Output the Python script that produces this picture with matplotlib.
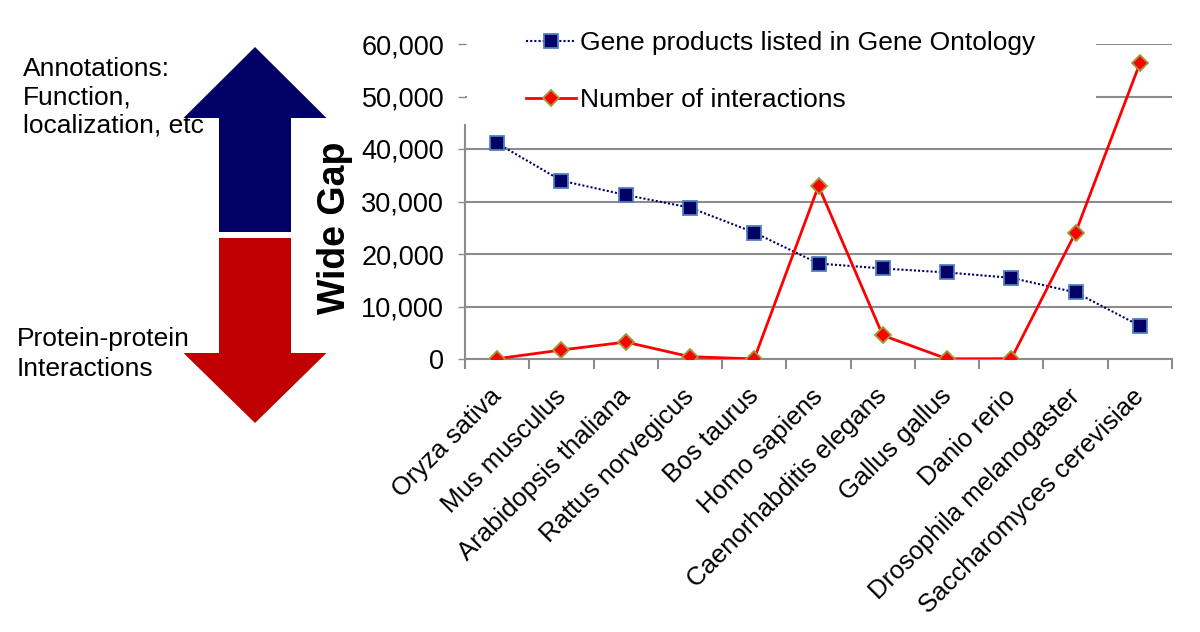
import matplotlib
matplotlib.use("Agg")
import matplotlib.pyplot as plt
from matplotlib.patches import Rectangle, FancyArrow
import matplotlib.ticker as mticker
import matplotlib.transforms as mtrans

species = ["Oryza sativa", "Mus musculus", "Arabidopsis thaliana", "Rattus norvegicus",
           "Bos taurus", "Homo sapiens", "Caenorhabditis elegans", "Gallus gallus",
           "Danio rerio", "Drosophila melanogaster", "Saccharomyces cerevisiae"]
gene_products = [41100, 33970, 31240, 28840, 24090, 18190, 17240, 16480, 15460, 12680, 6330]
interactions = [50, 1710, 3230, 440, 20, 32950, 4500, 30, 60, 24090, 56330]
yticks = [0, 10000, 20000, 30000, 40000, 50000, 60000]

plt.rcParams['font.family'] = ['Liberation Sans', 'DejaVu Sans']

fig = plt.figure(figsize=(12, 6.32), dpi=100)
ax = fig.add_axes([465/1200, 1-359/632, (1172-465)/1200, (359-44)/632])

x = list(range(len(species)))
ax.plot(x, gene_products, linestyle=(0, (1, 1)), color="#000066", lw=1.5,
        marker="s", markersize=9.5, markerfacecolor="#000066", markeredgecolor="#4f81bd",
        markeredgewidth=1.3, label="Gene products listed in Gene Ontology", zorder=3)
ax.plot(x, interactions, linestyle="-", color="#ff0000", lw=2,
        marker="D", markersize=8.5, markerfacecolor="#ff0000", markeredgecolor="#9c9c3c",
        markeredgewidth=1.3, label="Number of interactions", zorder=4)

ax.set_xlim(-0.5, len(species) - 0.5)
ax.set_ylim(0, 60000)
ax.set_yticks(yticks)
ax.yaxis.set_major_formatter(mticker.FuncFormatter(lambda v, p: f"{int(v):,}"))
ax.set_axisbelow(True)
ax.yaxis.grid(True, color="#8c8c8c", lw=1.5)
ax.tick_params(axis='y', labelsize=19.5, length=5, color="#8c8c8c", width=1, pad=10)

ax.set_xticks(x)
ax.set_xticklabels(species, rotation=45, ha='right', rotation_mode='anchor', fontsize=18.5)
ax.tick_params(axis='x', which='major', length=0, pad=18)
shift = mtrans.ScaledTranslation(-8/100, 0, fig.dpi_scale_trans)
for lbl in ax.get_xticklabels():
    lbl.set_transform(lbl.get_transform() + shift)
ax.set_xticks([i - 0.5 for i in range(len(species) + 1)], minor=True)
ax.tick_params(axis='x', which='minor', length=7, color="#8c8c8c", width=1.5)

for s in ['top', 'right']:
    ax.spines[s].set_visible(False)
ax.spines['left'].set_color("#8c8c8c")
ax.spines['left'].set_linewidth(1.5)
ax.spines['left'].set_bounds(0, 44500)
ax.spines['bottom'].set_color("#8c8c8c")
ax.spines['bottom'].set_linewidth(1.5)

# white legend area masking gridlines
ax.add_patch(Rectangle((0.003, 0.742), 0.889, 0.3, transform=ax.transAxes,
                       facecolor="white", edgecolor="none", zorder=1, clip_on=False))

leg = ax.legend(loc='upper left', bbox_to_anchor=(0.0707, 1.075), frameon=False,
                fontsize=19, handlelength=1.9, handletextpad=0.15, labelspacing=1.25,
                borderaxespad=0)

# "Wide Gap"
fig.text(335/1200, 1-228/632, "Wide Gap", rotation=90, fontsize=27, fontweight='bold',
         ha='center', va='center')

# arrows
fax = fig.add_axes([0, 0, 1, 1], zorder=-1)
fax.set_xlim(0, 1200)
fax.set_ylim(632, 0)
fax.axis('off')
fax.add_patch(FancyArrow(255, 232, 0, -(232 - 47), width=72, head_width=143,
                         head_length=118 - 47, length_includes_head=True,
                         facecolor="#000066", edgecolor="none", zorder=1))
fax.add_patch(FancyArrow(255, 238, 0, 423 - 238, width=72, head_width=143,
                         head_length=423 - 353, length_includes_head=True,
                         facecolor="#c00000", edgecolor="none", zorder=1))
fax.text(23, 57, "Annotations:\nFunction,\nlocalization, etc", fontsize=19,
         ha='left', va='top', linespacing=1.22, zorder=3)
fax.text(17, 327, "Protein-protein\nInteractions", fontsize=19,
         ha='left', va='top', linespacing=1.32, zorder=3)

fig.savefig("out.png", dpi=100)
